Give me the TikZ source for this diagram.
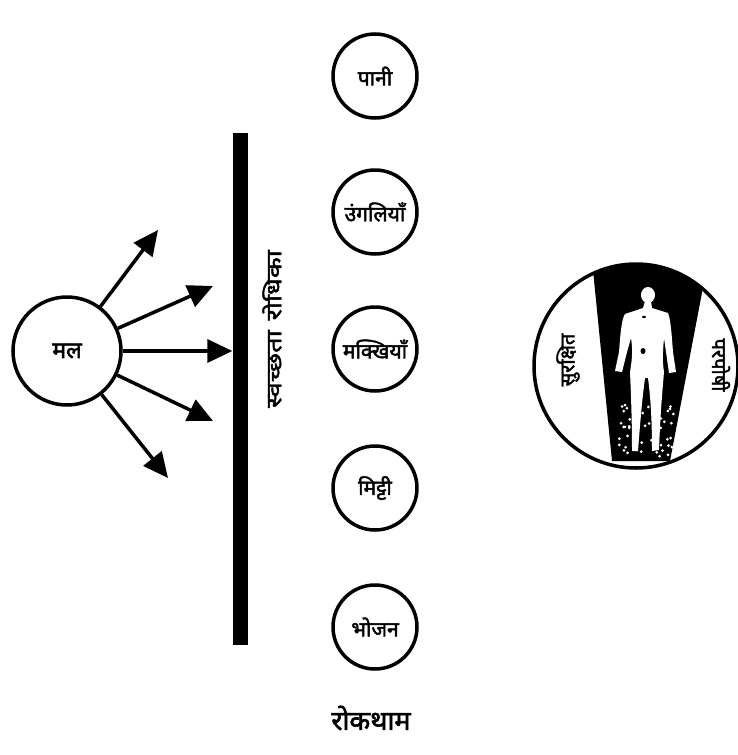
\documentclass[tikz,border=0pt]{standalone}
\usepackage{fontspec}
\newfontfamily\deva[Script=Devanagari,AutoFakeBold=2.2]{Noto Sans}
\newfontfamily\devawide[Script=Devanagari,AutoFakeBold=2.2,FakeStretch=1.3]{Noto Sans}
\usetikzlibrary{arrows.meta}
\begin{document}
\begin{tikzpicture}[x=1pt,y=-1pt,
  ring/.style={circle,draw,line width=3.5pt,minimum size=#1,inner sep=0pt,
    font=\deva\bfseries\fontsize{21}{24}\selectfont},
  ring/.default=84pt,
  spread/.style={line width=3.5pt,-{Triangle[length=25pt,width=23pt]}},
  lbl/.style={font=\deva\bfseries\fontsize{20}{22}\selectfont,inner sep=0pt}]
\useasboundingbox (0,0) rectangle (738,755);

% source of contamination and the spreading arrows
\node[ring=108pt,font=\deva\bfseries\fontsize{23}{26}\selectfont] (mal) at (67,351) {मल};
\coordinate (t1) at (158,230);
\coordinate (t2) at (213,286);
\coordinate (t4) at (213,421);
\coordinate (t5) at (168,478);

% the barrier
\node[fill=black,minimum width=15pt,minimum height=512pt,inner sep=0pt] (bar) at (240,389) {};
\node[font=\devawide\bfseries\fontsize{21}{24}\selectfont,inner sep=0pt,rotate=90]
  (barlbl) at (272,329) {स्वच्छता\hspace{10pt}रोधिका};

\draw[spread] (mal) -- (t1);
\draw[spread] (mal) -- (t2);
\draw[spread] (mal) -- (bar.west |- mal);
\draw[spread] (mal) -- (t4);
\draw[spread] (mal) -- (t5);

% routes that are blocked
\node[ring] (paani) at (375,76) {पानी};
\node[ring] (ungli) at (375,212) {उंगलियाँ};
\node[ring] (makkhi) at (375,349) {मक्खियाँ};
\node[ring] (mitti) at (375,488) {मिट्टी};
\node[ring] (bhojan) at (375,627) {भोजन};
\node[font=\deva\bfseries\fontsize{27}{30}\selectfont,inner sep=0pt] (roktham) at (371,718) {रोकथाम};

% protected host
\begin{scope}
  \clip (636,366) circle (102);
  \fill (590,240) -- (612,461) -- (670,461) -- (712,240) -- cycle;
\end{scope}
\node[circle,draw,line width=3.5pt,minimum size=204pt,inner sep=0pt] (host) at (636,366) {};

% human figure
\fill[white] (648,295) ellipse (7 and 8);
\fill[white] (645,301) -- (651,301) -- (652,308)
  -- (668,313) .. controls (671,320) and (672,340) .. (673,352)
  -- (676,372) -- (669,373) -- (666,352) -- (664,338)
  .. controls (663,350) and (662,360) .. (664,372)
  .. controls (662,395) and (660,420) .. (659,450)
  -- (652,451) .. controls (652,425) and (651,400) .. (648,378)
  -- (645,378) .. controls (642,400) and (640,425) .. (638,451)
  -- (632,451) .. controls (632,420) and (631,395) .. (630,372)
  .. controls (632,360) and (633,350) .. (631,338)
  -- (627,352) -- (622,372) -- (615,371) -- (619,352)
  .. controls (620,340) and (621,320) .. (625,314)
  -- (643,308) -- cycle;
\fill[black] (643,351) ellipse (2.5 and 3);
\fill[black] (644,317) ellipse (2 and 1.2);

% scattered light specks near the feet
\pgfmathsetseed{7}
\foreach \i in {1,...,45}{
  \pgfmathsetmacro{\yy}{405+52*rnd}
  \pgfmathsetmacro{\xl}{613+4*(\yy-405)/52}
  \pgfmathsetmacro{\xr}{676-5*(\yy-405)/52}
  \pgfmathsetmacro{\xx}{\xl+(\xr-\xl)*rnd}
  \fill[white] (\xx,\yy) circle (1.5);
}

\node[lbl,rotate=90] (safe) at (568,360) {सुरक्षित};
\node[lbl,rotate=-90] (parposhi) at (721,365) {परपोषी};
\end{tikzpicture}
\end{document}
